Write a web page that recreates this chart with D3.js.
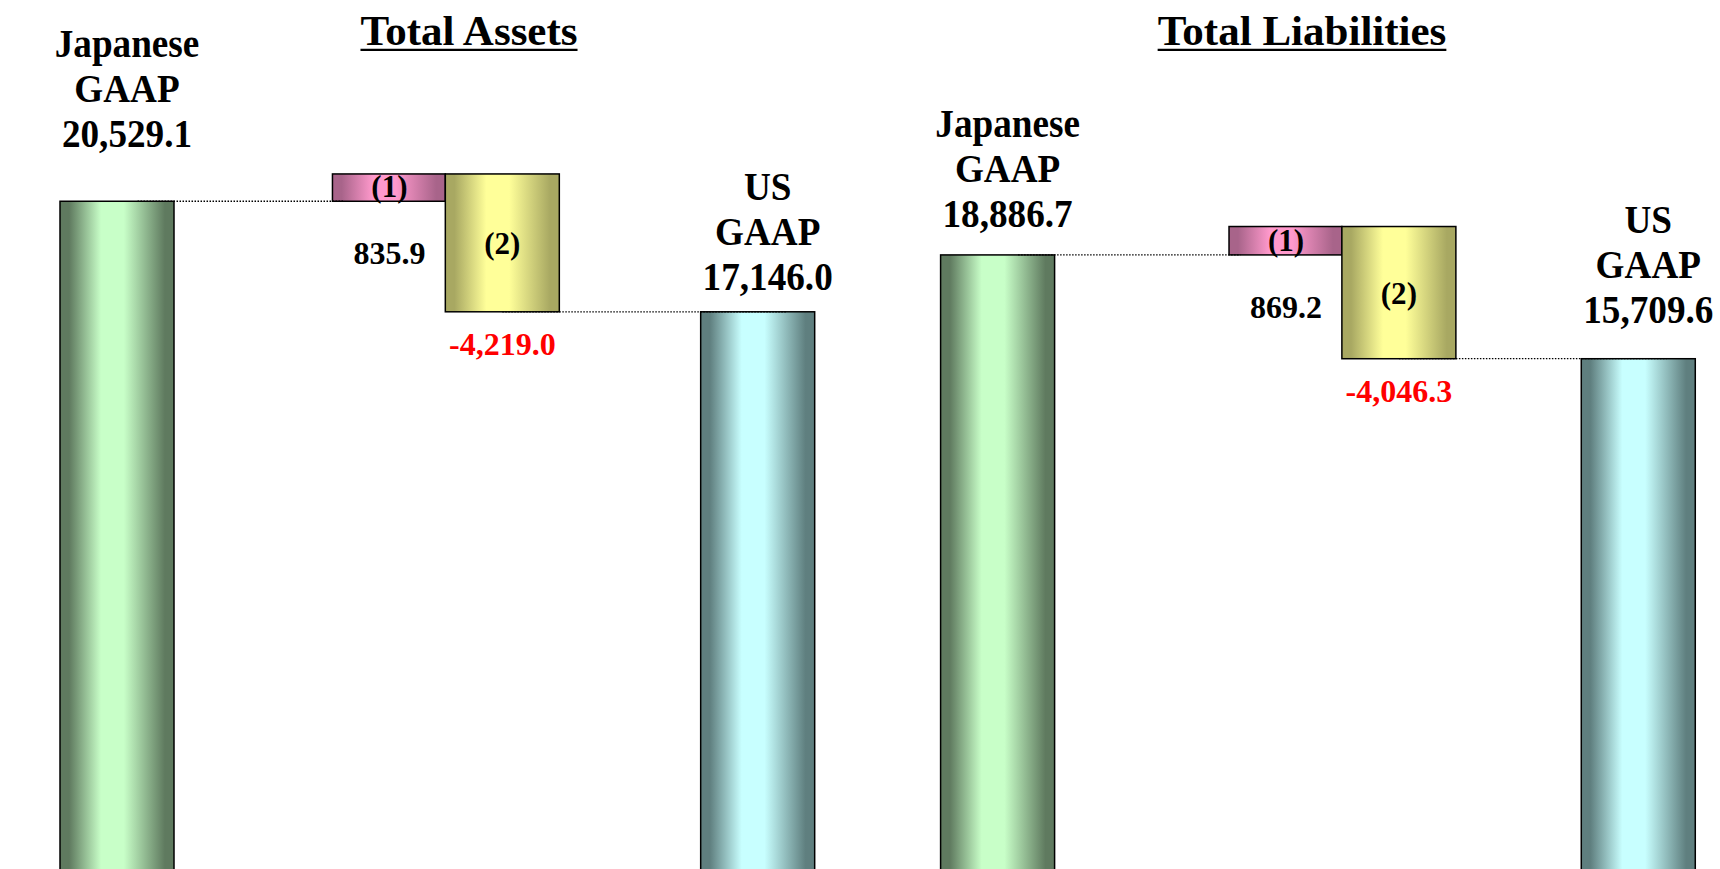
<!DOCTYPE html>
<html>
<head>
<meta charset="utf-8">
<script src="https://cdn.jsdelivr.net/npm/d3@7"></script>
<style>
  html, body { margin: 0; padding: 0; background: #fff; }
  svg { display: block; }
</style>
</head>
<body>
<div id="chart"></div>
<script>
// values
const panelTitles = ["Total Assets", "Total Liabilities"];
const japaneseGaap = [20529.1, 18886.7];
const step1 = [835.9, 869.2];
const step2 = [-4219.0, -4046.3];
const usGaap = [17146.0, 15709.6];
const stepNames = ["(1)", "(2)"];
const startName = ["Japanese", "GAAP"];
const endName = ["US", "GAAP"];

const width = 1720, height = 869;
const font = "'Liberation Serif', 'Times New Roman', serif";

const svg = d3.select("#chart").append("svg")
    .attr("width", width)
    .attr("height", height);

svg.append("rect").attr("width", width).attr("height", height).attr("fill", "#fff");

const defs = svg.append("defs");

function addGradient(id, dark, light) {
    let g = defs.append("linearGradient").attr("id", id)
        .attr("x1", "0%").attr("x2", "100%").attr("y1", "0%").attr("y2", "0%");
    [[0, dark], [0.08, dark], [0.36, light], [0.56, light], [0.92, dark], [1, dark]]
        .forEach(s => g.append("stop").attr("offset", s[0]).attr("stop-color", s[1]));
}
addGradient("g-start", "#5f7a5f", "#c8ffc8");
addGradient("g-step1", "#a8648a", "#ff99cc");
addGradient("g-step2", "#a8a862", "#ffff99");
addGradient("g-end", "#5f7f7f", "#c8ffff");

// one value scale for both panels; zero sits just under the bottom edge
let y = d3.scaleLinear().domain([0, 22000]).range([872, 153.2]);

// number format with a plain hyphen for negatives
const fmt = d3.formatLocale({decimal: ".", thousands: ",", grouping: [3], currency: ["", ""], minus: "-"}).format(",.1f");

// layout of each panel
const panelX0 = [60, 940.6];
const slots = [[0, 2.39, 3.38, 5.62], [0, 2.53, 3.52, 5.62]];
const titleX = [469, 1302];
const startGap = [68, 42];
const endGap = [35, 49];
const lineH = 45;

function label(g, str, x, cy, size, sx, color) {
    return g.append("text")
        .attr("transform", "translate(" + x + "," + (cy + size * 0.34) + ") scale(" + sx + ",1)")
        .attr("text-anchor", "middle")
        .style("font-family", font)
        .style("font-weight", "bold")
        .style("font-size", size + "px")
        .attr("fill", color || "#000")
        .text(str);
}

panelTitles.forEach(function (title, i) {
    let g = svg.append("g").attr("class", "panel");
    let x = d3.scaleLinear().domain([0, 1]).range([panelX0[i], panelX0[i] + 114]);
    let s = slots[i];

    let j = japaneseGaap[i];
    let top = j + step1[i];
    let u = usGaap[i];

    let bars = [
        {slot: s[0], w: 1, from: 0, to: j, fill: "url(#g-start)"},
        {slot: s[1], w: 0.99, from: j, to: top, fill: "url(#g-step1)"},
        {slot: s[2], w: 1, from: top, to: top + step2[i], fill: "url(#g-step2)"},
        {slot: s[3], w: 1, from: 0, to: u, fill: "url(#g-end)"}
    ];

    g.selectAll("rect.bar").data(bars).enter().append("rect")
        .attr("class", "bar")
        .attr("x", d => x(d.slot))
        .attr("width", d => x(d.slot + d.w) - x(d.slot))
        .attr("y", d => y(Math.max(d.from, d.to)))
        .attr("height", d => Math.abs(y(d.from) - y(d.to)))
        .attr("fill", d => d.fill)
        .attr("stroke", "#000")
        .attr("stroke-width", 1.5);

    // dotted connectors
    let connectors = [
        {x1: s[0] + 0.68, x2: s[1] + 0.1, v: j},
        {x1: s[2] + 0.5, x2: s[3] + 0.75, v: u}
    ];
    g.selectAll("line.conn").data(connectors).enter().append("line")
        .attr("class", "conn")
        .attr("x1", d => x(d.x1)).attr("x2", d => x(d.x2))
        .attr("y1", d => y(d.v)).attr("y2", d => y(d.v))
        .attr("stroke", "#000")
        .attr("stroke-width", 1.3)
        .attr("stroke-dasharray", "1.5,1.5");

    // title with underline
    let t = g.append("text")
        .attr("x", titleX[i]).attr("y", 45)
        .attr("text-anchor", "middle")
        .style("font-family", font)
        .style("font-weight", "bold")
        .style("font-size", "43px")
        .text(title);
    let tw = t.node().getComputedTextLength();
    g.append("line")
        .attr("x1", titleX[i] - tw / 2).attr("x2", titleX[i] + tw / 2)
        .attr("y1", 49.8).attr("y2", 49.8)
        .attr("stroke", "#000").attr("stroke-width", 2.3);

    // start / end labels
    let sc = y(j) - startGap[i];
    let sx = x(s[0] + 0.5) + 10;
    label(g, startName[0], sx, sc - 2 * lineH, 40, 0.93);
    label(g, startName[1], sx, sc - lineH, 40, 0.93);
    label(g, fmt(j), sx, sc, 40, 0.93);

    let ec = y(u) - endGap[i];
    let ex = x(s[3] + 0.5) + 10;
    label(g, endName[0], ex, ec - 2 * lineH, 40, 0.93);
    label(g, endName[1], ex, ec - lineH, 40, 0.93);
    label(g, fmt(u), ex, ec, 40, 0.93);

    // step labels
    label(g, stepNames[0], x(s[1] + 0.5), (y(j) + y(top)) / 2 - 1, 32, 0.97);
    label(g, fmt(step1[i]), x(s[1] + 0.5), y(j) + 52, 32, 1);
    label(g, stepNames[1], x(s[2] + 0.5), (y(top) + y(top + step2[i])) / 2, 32, 0.97);
    label(g, fmt(step2[i]), x(s[2] + 0.5), y(top + step2[i]) + 32, 32, 1, "#ff0000");
});
</script>
</body>
</html>
